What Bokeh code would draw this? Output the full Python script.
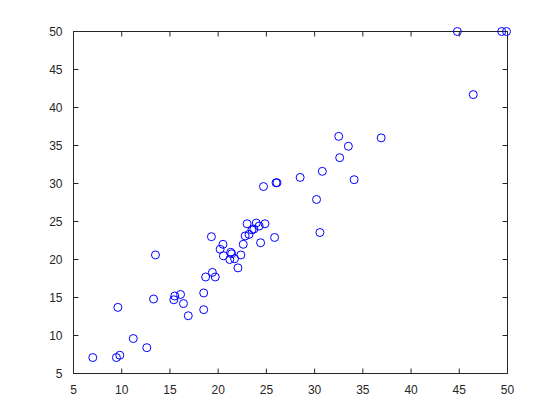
import math
from bokeh.plotting import figure
from bokeh.models import Range1d, FixedTicker
from bokeh.embed import file_html
from bokeh.resources import INLINE

xs = [7.0, 9.45, 9.8, 9.6, 11.2, 12.6, 13.3, 13.5, 15.4, 15.5, 16.1, 16.4, 16.9,
      18.5, 18.5, 18.7, 19.4, 19.7, 19.3, 20.2, 20.5, 20.55, 21.2, 21.3, 21.4,
      21.7, 22.05, 22.35, 22.6, 22.8, 23.0, 23.2, 23.5, 23.7, 23.95, 24.25, 24.4,
      24.85, 25.85, 24.7, 26.0, 26.1, 28.5, 30.8, 30.2, 30.55, 32.5, 33.5, 32.6,
      34.1, 36.9, 44.8, 49.4, 49.9, 46.45]
ys = [7.1, 7.1, 7.4, 13.7, 9.6, 8.4, 14.8, 20.6, 14.7, 15.2, 15.4, 14.2, 12.6,
      15.6, 13.4, 17.7, 18.3, 17.7, 23.0, 21.35, 22.0, 20.5, 20.0, 20.95, 20.75,
      20.1, 18.9, 20.6, 22.0, 23.1, 24.7, 23.3, 23.9, 24.0, 24.8, 24.4, 22.2,
      24.7, 22.9, 29.6, 30.1, 30.1, 30.8, 31.6, 27.9, 23.55, 36.2, 34.9, 33.4,
      30.5, 36.0, 50.0, 50.0, 50.0, 41.7]
ticks = [5, 10, 15, 20, 25, 30, 35, 40, 45, 50]
lo, hi = 5, 50

AX = "#262626"
FONT = "Liberation Sans"

# axes box is 434 x 342 px; the frame is 5 px larger on every side so that
# markers sitting on the box edge are not clipped (as in MATLAB)
PAD = 5
BOX_W, BOX_H = 434, 342
px_x = (hi - lo) / BOX_W
px_y = (hi - lo) / BOX_H

p = figure(width=552, height=412, output_backend="svg", toolbar_location=None,
           x_range=Range1d(lo - PAD * px_x, hi + PAD * px_x),
           y_range=Range1d(lo - PAD * px_y, hi + PAD * px_y),
           min_border_left=73 - PAD, min_border_right=40, min_border_top=31 - PAD,
           min_border_bottom=34, background_fill_color="white",
           border_fill_color="white", outline_line_color=None)
p.xgrid.visible = False
p.ygrid.visible = False

for ax in (p.xaxis[0], p.yaxis[0]):
    ax.ticker = FixedTicker(ticks=ticks)
    ax.axis_line_color = None
    ax.major_tick_line_color = None
    ax.minor_tick_line_color = None
    ax.major_tick_in = 0
    ax.major_tick_out = 0
    ax.major_label_text_font = FONT
    ax.major_label_text_font_size = "12px"
    ax.major_label_text_color = AX
    ax.major_label_standoff = 1 + PAD

# axes box
p.quad(left=[lo], right=[hi], bottom=[lo], top=[hi], fill_color=None,
       line_color=AX, line_width=1)
# inward ticks on all four sides
n = len(ticks)
p.ray(x=ticks, y=[lo] * n, length=5, length_units="screen", angle=math.pi / 2,
      line_color=AX, line_width=1)
p.ray(x=ticks, y=[hi] * n, length=5, length_units="screen", angle=-math.pi / 2,
      line_color=AX, line_width=1)
p.ray(x=[lo] * n, y=ticks, length=5, length_units="screen", angle=0,
      line_color=AX, line_width=1)
p.ray(x=[hi] * n, y=ticks, length=5, length_units="screen", angle=math.pi,
      line_color=AX, line_width=1)

p.scatter(xs, ys, marker="circle", size=8, fill_color=None,
          line_color="#0000ff", line_width=1)

open("out.html", "w").write(file_html(p, INLINE))
